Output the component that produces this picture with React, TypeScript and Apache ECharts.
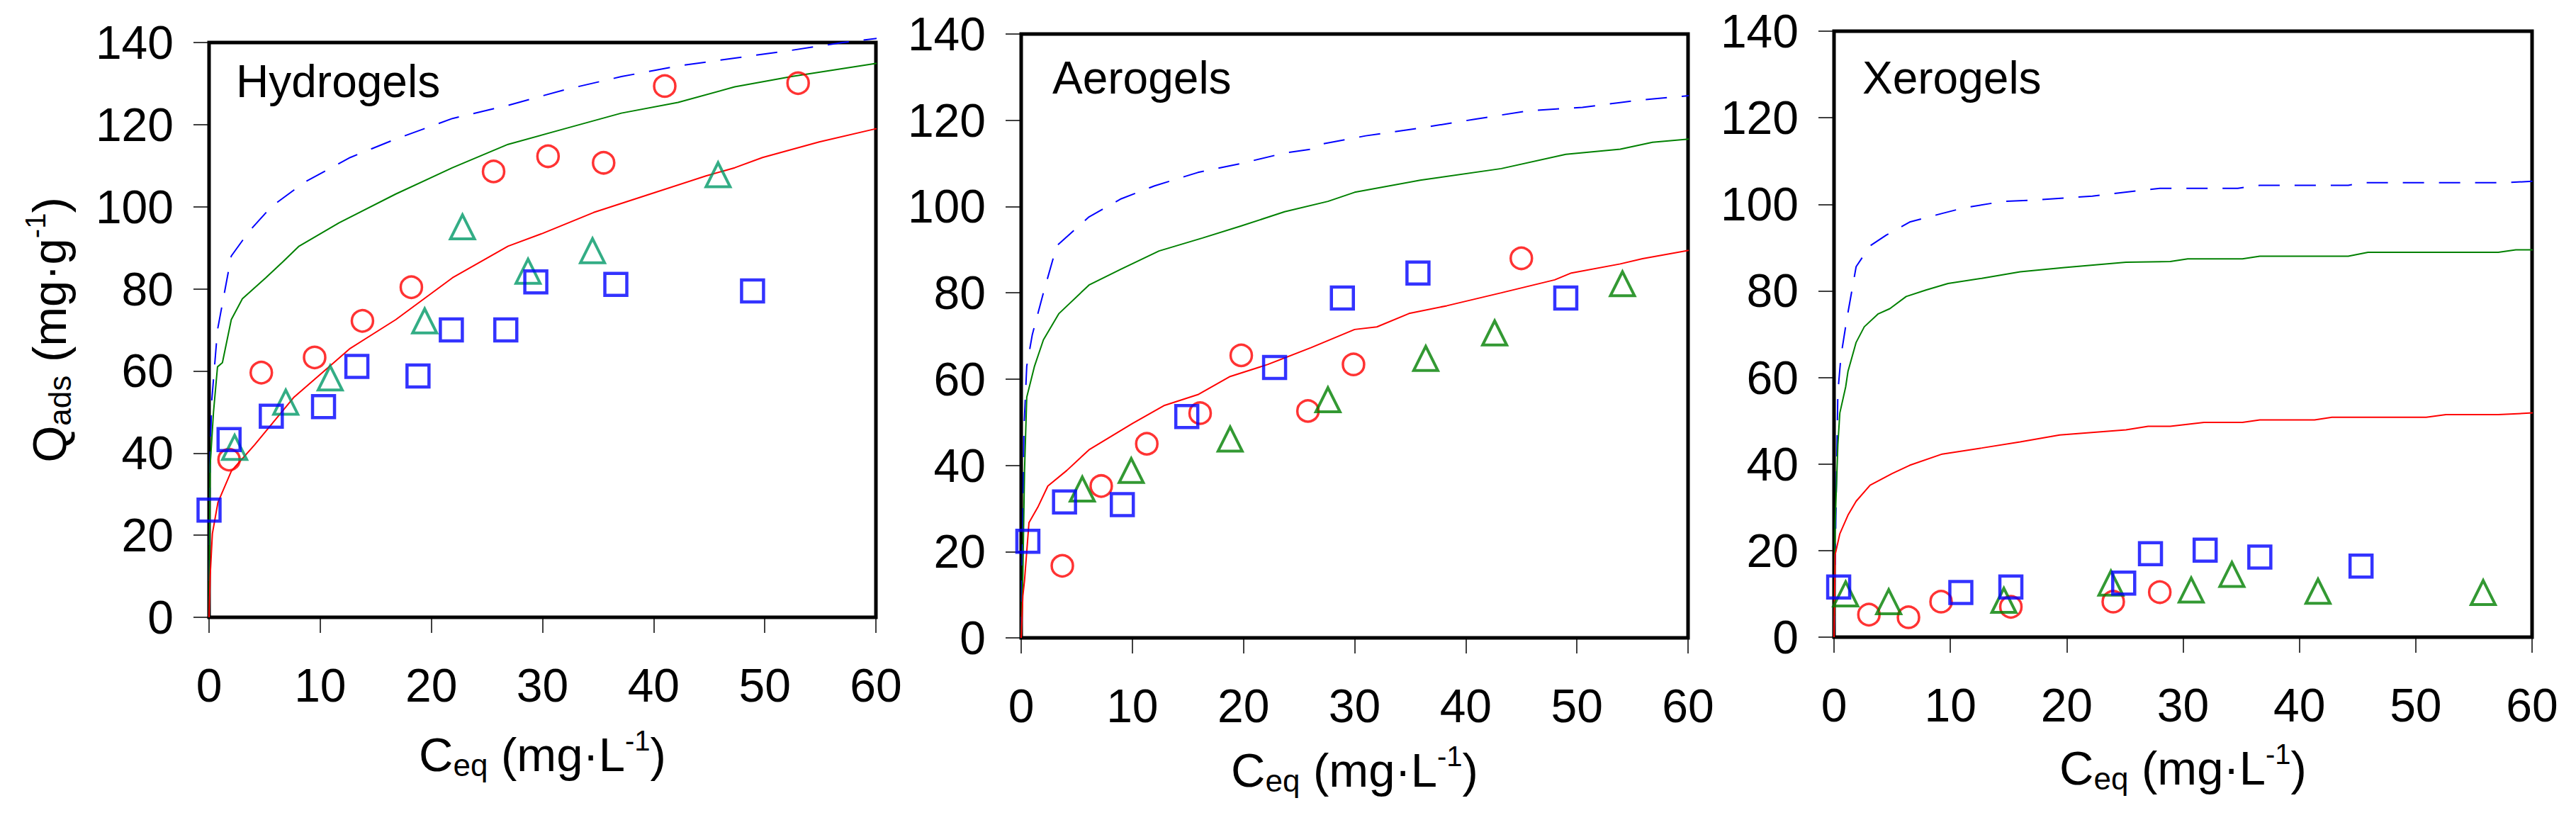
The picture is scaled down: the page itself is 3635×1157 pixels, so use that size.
import { useEffect, useRef } from "react";
import * as echarts from "echarts";

const FONT = "'Liberation Sans', Arial, sans-serif";

type Pt = [number, number];

// Hydrogels
const hydroCircles: Pt[] = [[1.8, 38.4], [4.7, 59.6], [9.5, 63.3], [13.8, 72.2], [18.2, 80.4], [25.6, 108.6], [30.5, 112.3], [35.5, 110.7], [41.0, 129.4], [53.0, 130.1]];
const hydroTriangles: Pt[] = [[2.3, 41.4], [6.9, 52.4], [10.9, 58.3], [19.4, 72.2], [22.8, 95.1], [28.7, 84.3], [34.5, 89.3], [45.8, 107.8]];
const hydroSquares: Pt[] = [[0, 26.1], [1.8, 43.3], [5.6, 49.0], [10.3, 51.3], [13.3, 61.1], [18.8, 58.8], [21.8, 70.0], [26.7, 70.0], [29.4, 81.7], [36.6, 81.1], [48.9, 79.5]];
const hydroBlueFit: Pt[] = [[0, 0], [0.1, 40], [0.25, 53], [0.76, 70], [2, 88], [3.6, 94], [5.6, 100], [8.6, 106], [12.7, 112], [16.8, 116.5], [21.9, 121.5], [26.9, 124.7], [32, 128.5], [37.1, 131.7], [42.2, 134.3], [47.3, 136.2], [52.4, 138.1], [57, 140], [61.3, 141.4]];
const hydroGreenFit: Pt[] = [[0, 0], [0.1, 37], [0.4, 50], [0.76, 61], [1.2, 62], [2, 72.5], [3, 77.6], [5.1, 82.7], [6.6, 86.5], [8.1, 90.4], [11.7, 96.1], [16.8, 103.1], [21.9, 109.5], [26.9, 115.2], [32, 119], [37.1, 122.8], [42.2, 125.4], [47.3, 129.2], [52.4, 131.7], [60, 134.9], [61.3, 135.3]];
const hydroRedFit: Pt[] = [[0, 0], [0.1, 10], [0.3, 20.4], [0.8, 28], [2, 35.6], [4.1, 42], [7.6, 53.5], [12.7, 65.5], [16.8, 72.5], [21.9, 82.7], [26.9, 90.4], [30, 93.5], [34.6, 98.6], [39.7, 103.1], [44.7, 107.5], [47.3, 109.5], [49.8, 112], [54.9, 115.8], [60, 119], [61.3, 119.8]];

// Aerogels
const aeroCircles: Pt[] = [[3.7, 16.7], [7.2, 35.2], [11.3, 45.0], [16.1, 52.1], [19.8, 65.5], [25.8, 52.6], [29.9, 63.4], [45.0, 88.0]];
const aeroTriangles: Pt[] = [[5.5, 34.5], [9.9, 38.8], [18.8, 46.1], [27.6, 55.2], [36.4, 64.8], [42.6, 70.7], [54.1, 82.1]];
const aeroSquares: Pt[] = [[0.6, 22.4], [3.9, 31.5], [9.1, 30.9], [14.9, 51.3], [22.8, 62.7], [28.9, 78.8], [35.7, 84.6], [49.0, 78.8]];
const aeroBlueFit: Pt[] = [[0, 0], [0.15, 26.7], [0.25, 48.5], [0.5, 63], [1, 70.3], [2, 80], [3.2, 90.9], [6.1, 97.6], [9, 101.8], [12, 104.8], [15.9, 107.9], [19.8, 110], [23.7, 112.4], [26.1, 113.3], [27.1, 114.5], [31, 116.4], [35.9, 118.2], [40.7, 120.2], [45.6, 122.2], [50.5, 123], [55.4, 124.6], [61.3, 126]];
const aeroGreenFit: Pt[] = [[0, 0], [0.15, 14.5], [0.3, 38.8], [0.5, 55.8], [1.2, 63], [2, 69.1], [3.4, 75.2], [6.1, 81.8], [9, 85.5], [12.4, 89.7], [16.3, 92.7], [19.8, 95.5], [23.7, 98.8], [27.6, 101.2], [30, 103.3], [35.9, 106.1], [43.2, 108.8], [49, 112.1], [53.9, 113.3], [56.8, 114.9], [61.3, 115.9]];
const aeroRedFit: Pt[] = [[0, 0], [0.15, 9.7], [0.3, 13.3], [0.7, 26.7], [1.5, 30.3], [2.4, 35.2], [4.1, 38.8], [6.1, 43.6], [10, 49.7], [12.9, 53.9], [15.9, 56.4], [18.8, 60.6], [22.2, 63.4], [26.1, 67.3], [30, 71.5], [32, 72.1], [34.9, 75.2], [38.3, 77], [43.2, 80], [48, 83], [49.5, 84.6], [53.9, 86.7], [55.9, 87.9], [61.3, 90.4]];

// Xerogels
const xeroCircles: Pt[] = [[3.0, 5.2], [6.4, 4.6], [9.2, 8.2], [15.2, 7.0], [24.0, 8.2], [28.0, 10.4]];
const xeroTriangles: Pt[] = [[1.0, 10.0], [4.7, 8.2], [14.6, 8.5], [23.8, 12.5], [30.7, 10.9], [34.2, 14.5], [41.6, 10.6], [55.8, 10.3]];
const xeroSquares: Pt[] = [[0.4, 11.6], [10.9, 10.3], [15.2, 11.6], [24.9, 12.5], [27.2, 19.3], [31.9, 20.1], [36.6, 18.5], [45.3, 16.4]];
const xeroBlueFit: Pt[] = [[0, 0], [0.15, 26.4], [0.33, 56.6], [0.6, 65], [1.1, 73.5], [1.9, 85.6], [3.1, 90.4], [4.5, 92.9], [6.5, 95.9], [9.3, 97.9], [11.2, 99.2], [14.6, 100.7], [17.4, 101], [22.2, 101.9], [26, 103.1], [28, 103.7], [34.7, 103.7], [36.6, 104.4], [44.2, 104.4], [45.6, 105], [57.6, 105], [61.4, 105.5]];
const xeroGreenFit: Pt[] = [[0, 0], [0.1, 26.4], [0.33, 44.5], [0.5, 51.8], [1, 57.8], [1.2, 61.4], [1.9, 68.1], [2.6, 71.7], [3.8, 74.7], [4.8, 75.9], [6.2, 78.7], [7.9, 80.2], [9.8, 81.7], [12.7, 82.9], [16, 84.4], [19.8, 85.4], [25.1, 86.6], [28.9, 86.8], [30.4, 87.4], [35.1, 87.4], [36.6, 88], [44.2, 88], [45.9, 88.9], [57.1, 88.9], [58.6, 89.5], [61.4, 89.5]];
const xeroRedFit: Pt[] = [[0, 0], [0.1, 19.1], [0.5, 23.9], [1.2, 28.2], [1.9, 31.4], [3.1, 35.1], [5, 37.8], [6.5, 39.7], [9.3, 42.3], [12.7, 43.7], [16, 45.1], [19.4, 46.7], [25.1, 47.9], [27, 48.7], [28.9, 48.7], [31.8, 49.6], [35.1, 49.6], [36.6, 50.2], [41.3, 50.2], [42.8, 50.8], [50.9, 50.8], [52.6, 51.4], [57.1, 51.4], [61.4, 52]];

const xTicks = { min: 0, max: 60, interval: 10 };
const yTicks = { min: 0, max: 140, interval: 20 };

const panels = [
  {
    label: "Hydrogels", labelX: 333, labelY: 83, box: { left: 295, top: 60, width: 941, height: 811 },
    triColor: "#009966", xGap: 148, yName: true,
    circles: hydroCircles, triangles: hydroTriangles, squares: hydroSquares,
    blue: hydroBlueFit, green: hydroGreenFit, red: hydroRedFit,
  },
  {
    label: "Aerogels", labelX: 1485, labelY: 78, box: { left: 1441, top: 48, width: 941, height: 852 },
    triColor: "#008000", xGap: 141, yName: false,
    circles: aeroCircles, triangles: aeroTriangles, squares: aeroSquares,
    blue: aeroBlueFit, green: aeroGreenFit, red: aeroRedFit,
  },
  {
    label: "Xerogels", labelX: 2628, labelY: 78, box: { left: 2588, top: 44, width: 985, height: 855 },
    triColor: "#008000", xGap: 139, yName: false,
    circles: xeroCircles, triangles: xeroTriangles, squares: xeroSquares,
    blue: xeroBlueFit, green: xeroGreenFit, red: xeroRedFit,
  },
];

// axis titles: subscript / superscript via rich text
const rich = {
  n: { fontSize: 67, fontFamily: FONT, color: "#000", lineHeight: 90 },
  sub: { fontSize: 44, fontFamily: FONT, color: "#000", lineHeight: 90, height: 60, verticalAlign: "bottom" },
  sup: { fontSize: 40, fontFamily: FONT, color: "#000", lineHeight: 90, height: 52, verticalAlign: "top" },
};
const xName = "{n|C}{sub|eq}{n| (mg·L}{sup|-1}{n|)}";
const yName = "{n|Q}{sub|ads}{n| (mg·g}{sup|-1}{n|)}";

const tickStyle = { show: true, inside: false, length: 22, lineStyle: { color: "#000", width: 1.5 } };
const labelStyle = { fontSize: 66, fontFamily: FONT, color: "#000" };

export default function App() {
  const ref = useRef<HTMLDivElement>(null);

  useEffect(() => {
    if (!ref.current) return;
    const chart = echarts.init(ref.current, undefined, { renderer: "svg" });
    const series: any[] = [];
    panels.forEach((p, i) => {
      const axes = { xAxisIndex: i, yAxisIndex: i };
      const fit = (data: Pt[], color: string, dashed: boolean) => ({
        type: "line", ...axes, data, symbol: "none", showSymbol: false, clip: false, silent: true, z: 2,
        lineStyle: { color, width: 2, type: dashed ? [30, 21] : "solid" },
      });
      series.push(fit(p.blue, "#0000ff", true), fit(p.green, "#008000", false), fit(p.red, "#ff0000", false));
      series.push({
        type: "scatter", ...axes, data: p.circles, symbol: "circle", symbolSize: 30, z: 3, silent: true,
        itemStyle: { color: "rgba(0,0,0,0)", borderColor: "#ff0000", borderWidth: 3.5 },
      });
      series.push({
        type: "scatter", ...axes, data: p.triangles, symbol: "triangle", symbolSize: [34, 34], z: 3, silent: true,
        itemStyle: { color: "rgba(0,0,0,0)", borderColor: p.triColor, borderWidth: 4 },
      });
      series.push({
        type: "scatter", ...axes, data: p.squares, symbol: "rect", symbolSize: 31, z: 3, silent: true,
        itemStyle: { color: "rgba(0,0,0,0)", borderColor: "#0000ff", borderWidth: 4.5 },
      });
    });

    chart.setOption({
      animation: false,
      backgroundColor: "#fff",
      grid: panels.map((p) => ({ ...p.box, show: true, borderColor: "#000", borderWidth: 5, containLabel: false })),
      xAxis: panels.map((p, i) => ({
        gridIndex: i, type: "value", ...xTicks,
        axisLine: { show: false }, axisTick: tickStyle, splitLine: { show: false },
        axisLabel: { ...labelStyle, margin: 63 },
        name: xName, nameLocation: "middle", nameGap: p.xGap, nameTextStyle: { rich },
      })),
      yAxis: panels.map((p, i) => ({
        gridIndex: i, type: "value", ...yTicks,
        axisLine: { show: false }, axisTick: tickStyle, splitLine: { show: false },
        axisLabel: { ...labelStyle, margin: 50 },
        name: p.yName ? yName : "", nameLocation: "middle", nameRotate: 90, nameGap: 181, nameTextStyle: { rich },
      })),
      graphic: panels.map((p) => ({
        type: "text", left: p.labelX, top: p.labelY, silent: true,
        style: { text: p.label, fontSize: 64, fontFamily: FONT, fill: "#000" },
      })),
      series,
    });
    return () => chart.dispose();
  }, []);

  return <div ref={ref} style={{ position: "absolute", left: 0, top: 0, width: 3635, height: 1157 }} />;
}
